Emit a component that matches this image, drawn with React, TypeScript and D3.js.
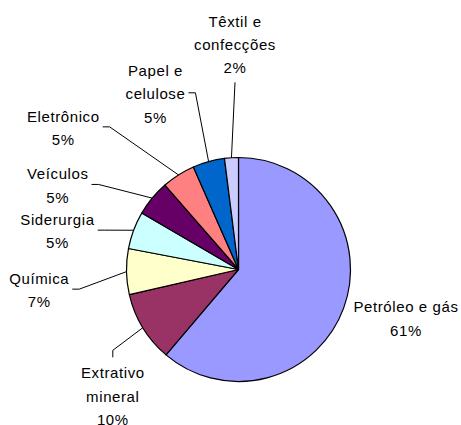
import React, { useEffect, useRef } from "react";
import * as d3 from "d3";

// sectors, clockwise from 12 o'clock
const sectors: string[][] = [
  ["Petróleo e gás"],
  ["Extrativo", "mineral"],
  ["Química"],
  ["Siderurgia"],
  ["Veículos"],
  ["Eletrônico"],
  ["Papel e", "celulose"],
  ["Têxtil e", "confecções"],
];
const shares: number[] = [61.2, 10.2, 6.6, 5.4, 5.2, 4.8, 4.6, 2.0];
const colors: string[] = [
  "#9999FF",
  "#993366",
  "#FFFFCC",
  "#CCFFFF",
  "#660066",
  "#FF8080",
  "#0066CC",
  "#CCCCFF",
];

// label placement: center x / first baseline relative to pie center, leader side
const labelLayout: { dx: number; dy: number; side: string }[] = [
  { dx: 167.5, dy: 42.8, side: "none" },
  { dx: -125.7, dy: 108.8, side: "top" },
  { dx: -199.3, dy: 14.5, side: "right" },
  { dx: -181, dy: -44.5, side: "right" },
  { dx: -180.7, dy: -90.2, side: "right" },
  { dx: -175.2, dy: -147.8, side: "right" },
  { dx: -83, dy: -193.5, side: "right" },
  { dx: -3.5, dy: -242.8, side: "bottom" },
];

const W = 461;
const H = 425;

const App: React.FC = () => {
  const svgRef = useRef<SVGSVGElement | null>(null);

  useEffect(() => {
    if (!svgRef.current) return;
    const svg = d3.select(svgRef.current);
    svg.selectAll("*").remove();

    const cx = 238.5;
    const cy = 269.5;
    const radius = 112;
    const lineH = 23.3;
    const total = d3.sum(shares);
    const fmt = d3.format(".0%");

    const pie = d3
      .pie<number>()
      .sort(null)
      .value((d) => d)
      .startAngle(0)
      .endAngle(2 * Math.PI);
    const arcs = pie(shares);

    const arc = d3
      .arc<d3.PieArcDatum<number>>()
      .innerRadius(0)
      .outerRadius(radius);
    const edge = d3
      .arc<d3.PieArcDatum<number>>()
      .innerRadius(radius)
      .outerRadius(radius);

    const g = svg.append("g").attr("transform", `translate(${cx},${cy})`);

    g.selectAll("path.slice")
      .data(arcs)
      .enter()
      .append("path")
      .attr("class", "slice")
      .attr("d", arc)
      .attr("fill", (_, i) => colors[i])
      .attr("stroke", "#000")
      .attr("stroke-width", 1.2)
      .attr("stroke-linejoin", "round");

    arcs.forEach((a, i) => {
      const lay = labelLayout[i];
      const lines = [...sectors[i], fmt(shares[i] / total)];
      const text = g
        .append("text")
        .attr("text-anchor", "middle")
        .attr("font-family", "'Liberation Sans', Arial, sans-serif")
        .attr("font-size", 15)
        .attr("letter-spacing", 0.6)
        .attr("fill", "#000");
      lines.forEach((ln, j) => {
        text
          .append("tspan")
          .attr("x", lay.dx)
          .attr("y", lay.dy + j * lineH)
          .text(ln);
      });

      if (lay.side === "none") return;
      const bb = (text.node() as SVGTextElement).getBBox();
      const [ex, ey] = edge.centroid(a);
      let pts: [number, number][] = [];
      if (lay.side === "right") {
        const x0 = bb.x + bb.width + 3;
        const y0 = bb.y + bb.height / 2 - 1;
        pts = [
          [x0, y0],
          [x0 + 7, y0],
          [ex, ey],
        ];
      } else if (lay.side === "top") {
        const x0 = lay.dx;
        const y0 = bb.y - 7;
        pts = [
          [x0, y0],
          [x0, y0 - 7],
          [ex, ey],
        ];
      } else {
        const x0 = lay.dx;
        const y0 = bb.y + bb.height + 6;
        pts = [
          [x0, y0],
          [ex, ey],
        ];
      }
      g.append("path")
        .attr("d", d3.line()(pts))
        .attr("fill", "none")
        .attr("stroke", "#000")
        .attr("stroke-width", 1);
    });
  }, []);

  return (
    <svg
      ref={svgRef}
      width={W}
      height={H}
      style={{ position: "absolute", left: 0, top: 0, background: "#fff" }}
    ></svg>
  );
};

export default App;
